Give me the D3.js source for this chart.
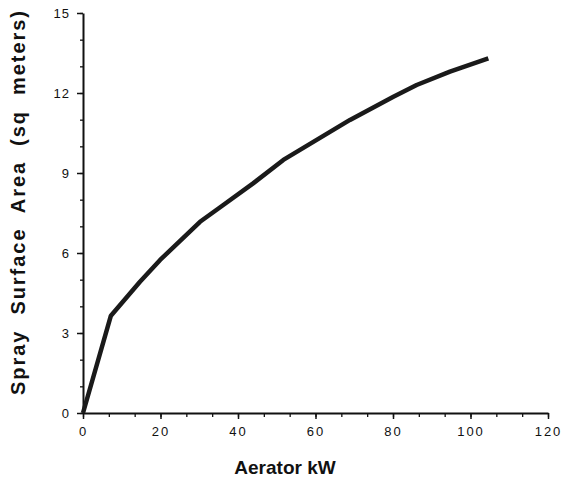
<!DOCTYPE html>
<html>
<head>
<meta charset="utf-8">
<script src="https://cdn.jsdelivr.net/npm/d3@7"></script>
<style>
  body { margin: 0; background: #fff; }
  text { font-family: "Liberation Sans", Arial, sans-serif; fill: #111; }
</style>
</head>
<body>
<svg id="chart"></svg>
<script>
// Data
const aeratorKw = [0, 7.2, 14.7, 19.9, 30.2, 36.2, 43.9, 51.7, 60.3, 68.9, 80.1, 86.1, 94.7, 104.6];
const sprayArea = [0, 3.65, 4.92, 5.74, 7.17, 7.8, 8.61, 9.49, 10.24, 10.99, 11.86, 12.3, 12.8, 13.3];
const xTicks = [0, 20, 40, 60, 80, 100, 120];
const yTicks = [0, 3, 6, 9, 12, 15];

const width = 563, height = 488;
const margin = { top: 13, right: 15, bottom: 75, left: 83 };

const svg = d3.select('#chart')
    .attr('width', width)
    .attr('height', height);

const x = d3.scaleLinear()
    .domain([0, 120])
    .range([margin.left, width - margin.right]);

const y = d3.scaleLinear()
    .domain([0, 15])
    .range([height - margin.bottom, margin.top]);

// minor ticks
const xMinor = d3.range(0, 121, 20 / 3);
const yMinor = d3.range(0, 16, 1);

svg.append('g')
    .attr('transform', `translate(0,${y(0)})`)
    .call(d3.axisBottom(x).tickValues(xMinor).tickSize(4).tickFormat(''))
    .call(g => g.select('.domain').remove())
    .selectAll('line').attr('stroke', '#111').attr('stroke-width', 1.3);

svg.append('g')
    .attr('transform', `translate(${x(0)},0)`)
    .call(d3.axisLeft(y).tickValues(yMinor).tickSize(3).tickFormat(''))
    .call(g => g.select('.domain').remove())
    .selectAll('line').attr('stroke', '#111').attr('stroke-width', 1.3);

// x axis
const gx = svg.append('g')
    .attr('transform', `translate(0,${y(0)})`)
    .call(d3.axisBottom(x).tickValues(xTicks).tickSize(6).tickSizeOuter(0).tickPadding(8));
gx.select('.domain').attr('stroke', '#111').attr('stroke-width', 2);
gx.selectAll('line').attr('stroke', '#111').attr('stroke-width', 1.5);
gx.selectAll('text')
    .style('font-size', '13px')
    .style('letter-spacing', '2px');

// y axis
const gy = svg.append('g')
    .attr('transform', `translate(${x(0)},0)`)
    .call(d3.axisLeft(y).tickValues(yTicks).tickSize(6).tickSizeOuter(0).tickPadding(7));
gy.select('.domain').attr('stroke', '#111').attr('stroke-width', 2);
gy.selectAll('line').attr('stroke', '#111').attr('stroke-width', 1.5);
gy.selectAll('text')
    .style('font-size', '13px')
    .style('letter-spacing', '1px');

// curve
const pts = aeratorKw.map((d, i) => [d, sprayArea[i]]);
const line = d3.line()
    .x(d => x(d[0]))
    .y(d => y(d[1]));

svg.append('path')
    .datum(pts)
    .attr('fill', 'none')
    .attr('stroke', '#1a1a1a')
    .attr('stroke-width', 4.5)
    .attr('stroke-linejoin', 'round')
    .attr('d', line);

// axis titles
svg.append('text')
    .attr('x', 285)
    .attr('y', 474)
    .attr('text-anchor', 'middle')
    .style('font-size', '19px')
    .style('font-weight', 'bold')
    .text('Aerator kW');

svg.append('text')
    .attr('transform', `translate(25,${(10 + 396) / 2}) rotate(-90)`)
    .attr('text-anchor', 'middle')
    .attr('textLength', 384)
    .attr('lengthAdjust', 'spacing')
    .style('font-size', '20px')
    .style('font-weight', 'bold')
    .style('white-space', 'pre')
    .text('Spray  Surface  Area  (sq  meters)');
</script>
</body>
</html>
